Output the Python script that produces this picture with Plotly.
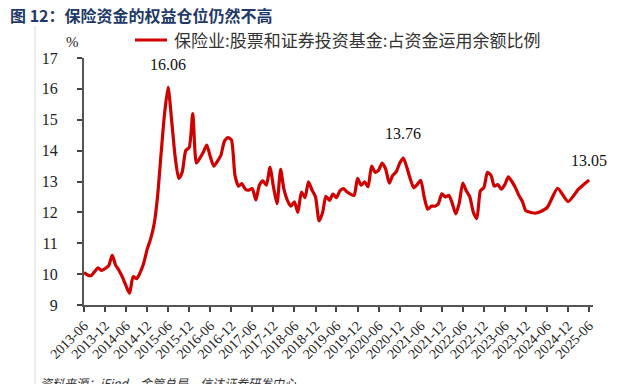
import plotly.graph_objects as go
import pandas as pd

monthly_values = [
    10.05, 9.97, 9.95, 10.08, 10.2, 10.12, 10.18, 10.27, 10.62, 10.3, 10.12, 9.9,
    9.62, 9.38, 9.92, 9.85, 10.05, 10.35, 10.8, 11.15, 11.65, 12.5, 13.9, 15.2,
    16.06, 15.0, 13.8, 13.1, 13.3, 14.0, 14.1, 15.2, 13.6, 13.75, 13.95, 14.18,
    13.8, 13.5, 13.65, 13.85, 14.3, 14.42, 14.35, 13.2, 12.85, 12.93, 12.75, 12.72,
    12.77, 12.4, 12.88, 13.02, 12.88, 13.46, 12.83, 12.28, 13.39, 12.77, 12.39, 12.2,
    12.34, 12.0, 12.66, 12.48, 12.99, 12.72, 12.5, 11.72, 12.0, 12.52, 12.39, 12.59,
    12.48, 12.7, 12.77, 12.66, 12.59, 12.55, 13.1, 12.88, 12.99, 12.83, 13.5, 13.3,
    13.37, 13.6, 13.4, 12.95, 13.2, 13.32, 13.6, 13.76, 13.45, 13.1, 12.8, 12.9,
    13.04, 12.5, 12.1, 12.2, 12.2, 12.28, 12.6, 12.5, 12.55, 12.3, 11.95, 12.3,
    12.95, 12.7, 12.5, 12.0, 11.8, 12.7, 12.8, 13.3, 13.2, 12.85, 12.9, 12.75,
    12.9, 13.15, 13.0, 12.8, 12.55, 12.35, 12.05,
]
monthly_dates = pd.date_range("2013-06-01", periods=len(monthly_values), freq="MS")

quarterly_dates = ["2024-03-01", "2024-06-01", "2024-09-01", "2024-12-01", "2025-03-01", "2025-06-01"]
quarterly_values = [11.98, 12.15, 12.78, 12.35, 12.75, 13.05]

dates = [d.strftime("%Y-%m-%d") for d in monthly_dates] + quarterly_dates
values = monthly_values + quarterly_values

tick_dates = [d.strftime("%Y-%m-%d") for d in pd.date_range("2013-06-01", "2025-06-01", freq="6MS")]
tick_labels = [d[:7] for d in tick_dates]

series_name = "保险业:股票和证券投资基金:占资金运用余额比例"
callouts = [("2015-06-01", 16.06, 12), ("2021-01-01", 13.76, 14), ("2025-06-01", 13.05, 9)]

serif = "Liberation Serif, Times New Roman, serif"
cjk = "Noto Sans CJK SC"
line_color = "#D00000"

# plot area in pixels
L, R, T, B = 84, 593, 58, 305
W, H = R - L, B - T


def px(xp):
    return (xp - L) / W


def py(yp):
    return (B - yp) / H


fig = go.Figure()
fig.add_trace(go.Scatter(
    x=dates, y=values, mode="lines", name=series_name,
    line=dict(color=line_color, width=3.2, shape="spline", smoothing=0.6),
))

for x, y, ys in callouts:
    fig.add_annotation(x=x, y=y, text=f"{y:.2f}", showarrow=False, yshift=ys,
                       yanchor="bottom", xanchor="center",
                       font=dict(family=serif, size=16, color="#111111"))

fig.update_layout(
    width=621, height=384,
    margin=dict(l=L, r=621 - R, t=T, b=384 - B, autoexpand=False),
    paper_bgcolor="white", plot_bgcolor="white",
    showlegend=False,
    xaxis=dict(
        type="date", range=["2013-06-01", "2025-07-05"], automargin=False,
        tickvals=tick_dates, ticktext=tick_labels, tickangle=-45,
        ticks="outside", ticklen=5, tickwidth=1.5, tickcolor="#444444",
        showline=True, linecolor="#555555", linewidth=2, showgrid=False, zeroline=False,
        tickfont=dict(family=serif, size=14, color="#222222"),
    ),
    yaxis=dict(
        range=[9, 17], dtick=1, automargin=False,
        ticks="outside", ticklen=5, tickwidth=1.5, tickcolor="#444444",
        showline=True, linecolor="#555555", linewidth=2, showgrid=False, zeroline=False,
        tickfont=dict(family=serif, size=16, color="#222222"), ticklabelstandoff=16,
    ),
)

# manual legend
fig.add_shape(type="line", xref="paper", yref="paper", x0=px(135), x1=px(167), y0=py(40), y1=py(40),
              line=dict(color=line_color, width=3))
fig.add_annotation(xref="paper", yref="paper", x=px(172), y=py(40), xanchor="left", yanchor="middle",
                   text=series_name, showarrow=False,
                   font=dict(family=cjk, size=17, color="#333333"))

fig.add_annotation(xref="paper", yref="paper", x=px(72), y=py(42), text="%", showarrow=False,
                   xanchor="center", yanchor="middle", font=dict(family=serif, size=15, color="#222222"))
fig.add_annotation(xref="paper", yref="paper", xanchor="left", yanchor="middle",
                   x=px(8), y=py(15),
                   text="<b>图 12：保险资金的权益仓位仍然不高</b>", showarrow=False,
                   font=dict(family=cjk, size=16, color="#1F3A68"))
fig.add_annotation(xref="paper", yref="paper", xanchor="left", yanchor="top",
                   x=px(38), y=py(372),
                   text="<i>资料来源：iFind，金管总局，信达证券研发中心</i>", showarrow=False,
                   font=dict(family=cjk, size=12, color="#333333"))
fig.add_shape(type="line", xref="paper", yref="paper",
              x0=px(35), x1=px(35), y0=py(384), y1=py(26),
              line=dict(color="#D8D8D8", width=1))

fig.write_html("out.html", config={"displayModeBar": False},
               post_script="document.body.style.margin='0px';document.body.style.overflow='hidden';")
